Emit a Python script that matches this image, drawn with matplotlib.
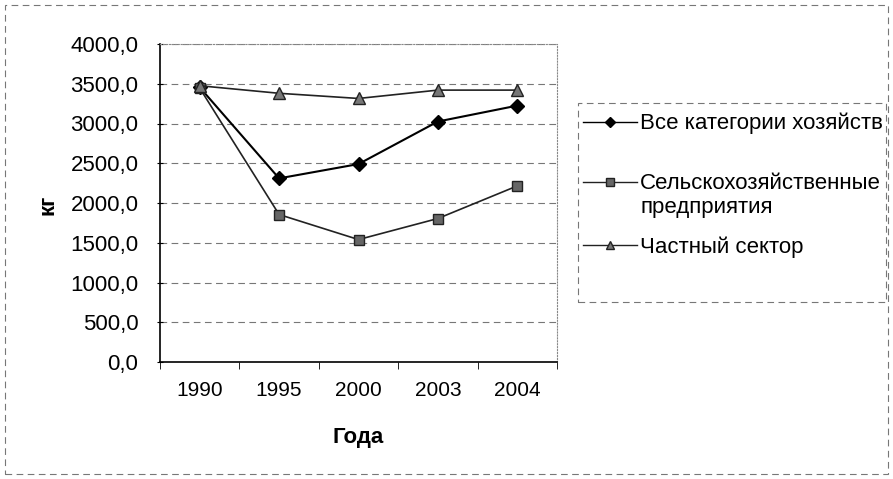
import matplotlib
matplotlib.use('Agg')
import matplotlib.pyplot as plt
from matplotlib.patches import Rectangle
from matplotlib.lines import Line2D

plt.rcParams['font.family'] = ['Liberation Sans', 'DejaVu Sans']

years = ['1990', '1995', '2000', '2003', '2004']
vse = [3455, 2310, 2490, 3025, 3225]
selhoz = [3445, 1855, 1540, 1805, 2215]
chastny = [3475, 3380, 3315, 3420, 3420]
labels = ['Все категории хозяйств', 'Сельскохозяйственные\nпредприятия', 'Частный сектор']

W, H = 893, 479
fig = plt.figure(figsize=(W / 100, H / 100), dpi=100)
ax = fig.add_axes([160 / W, 1 - 362 / H, 397 / W, 318 / H])

styles = [
    dict(color='black', lw=1.5, marker='D', ms=7, mfc='black', mec='black'),
    dict(color='#222222', lw=1.2, marker='s', ms=7, mfc='#666666', mec='#222222'),
    dict(color='#222222', lw=1.2, marker='^', ms=8, mfc='#777777', mec='#222222'),
]

x = list(range(len(years)))
for vals, st in zip([vse, selhoz, chastny], styles):
    ax.plot(x, vals, **st)

ax.set_xlim(-0.5, len(years) - 0.5)
ax.set_ylim(0, 4000)
ax.set_yticks(range(0, 4001, 500))
ax.set_yticklabels([('%.1f' % v).replace('.', ',') for v in range(0, 4001, 500)], fontsize=16)
ax.set_xticks(x)
ax.set_xticklabels(years, fontsize=15)
ax.set_xticks([i - 0.5 for i in range(len(years) + 1)], minor=True)
ax.tick_params(axis='x', which='major', length=0, pad=14)
ax.tick_params(axis='x', which='minor', length=5, direction='out')
ax.tick_params(axis='y', length=5, direction='inout', pad=13)

for v in range(500, 4001, 500):
    ax.axhline(v, color='#777777', lw=0.8, ls=(0, (6, 4)), zorder=0)

for s in ['top', 'right']:
    ax.spines[s].set_color('#888888')
    ax.spines[s].set_linestyle(':')
for s in ['left', 'bottom']:
    ax.spines[s].set_color('black')
    ax.spines[s].set_linewidth(1.2)

fig.text(48 / W, 1 - 205 / H, 'кг', fontsize=16, fontweight='bold', rotation=90, ha='center', va='center')
fig.text(358 / W, 1 - 437 / H, 'Года', fontsize=16, fontweight='bold', ha='center', va='center')

# legend box and entries
fig.patches.append(Rectangle((578 / W, 1 - 302 / H), 308 / W, 199 / H, transform=fig.transFigure,
                             fill=False, edgecolor='#777777', lw=0.8, ls=(0, (6, 4))))
leg_y = [122, 182, 245]
for lab, st, yy in zip(labels, styles, leg_y):
    fig.lines.append(Line2D([583 / W, 637 / W], [1 - yy / H] * 2, transform=fig.transFigure,
                            color=st['color'], lw=1.0, zorder=3))
    fig.lines.append(Line2D([610 / W], [1 - yy / H], transform=fig.transFigure, ls='none',
                            marker=st['marker'], ms=st['ms'] * 0.8, mfc=st['mfc'], mec=st['mec'], zorder=4))
    fig.text(640 / W, 1 - (yy - 9) / H, lab, fontsize=16, ha='left', va='top', linespacing=1.2)

fig.patches.append(Rectangle((5 / W, 5 / H), 883 / W, 469 / H, transform=fig.transFigure,
                             fill=False, edgecolor='#777777', lw=0.8, ls=(0, (6, 4))))

fig.savefig('out.png', dpi=100)
